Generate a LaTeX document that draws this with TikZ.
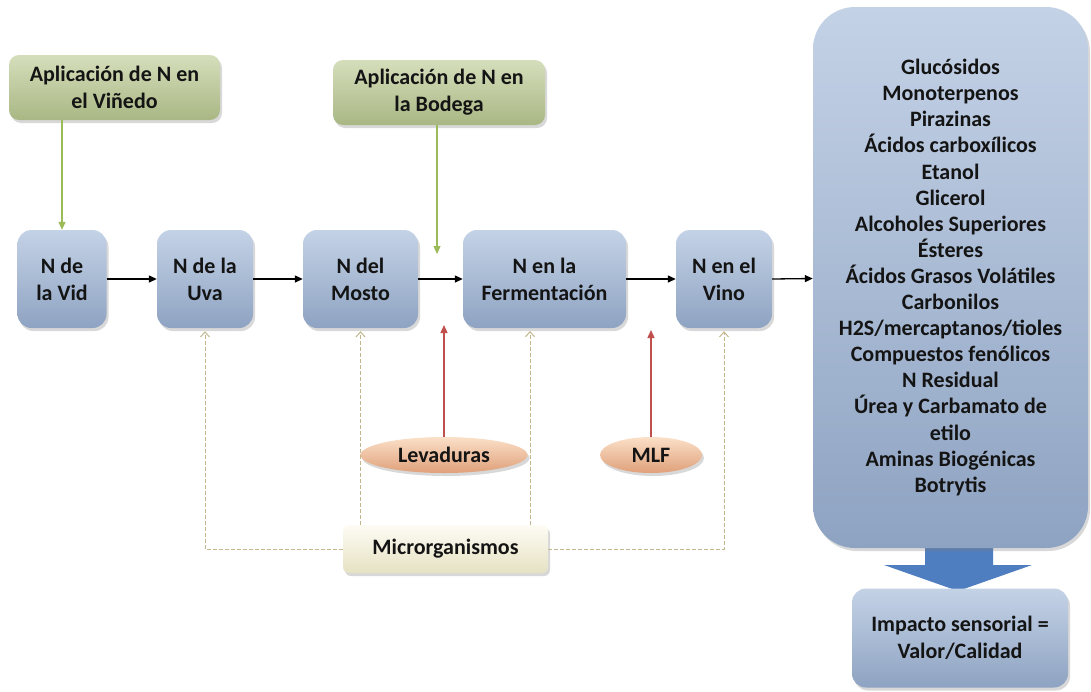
\documentclass[tikz,border=0pt]{standalone}
\usepackage{fontspec}
\setmainfont{Carlito}
\usetikzlibrary{shapes.geometric,shadows,arrows.meta,calc}

\definecolor{blueTop}{HTML}{C4D2E6}
\definecolor{blueBot}{HTML}{8EA3C2}
\definecolor{greenTop}{HTML}{D5DEBB}
\definecolor{greenBot}{HTML}{A9B784}
\definecolor{peachTop}{HTML}{FBE0C8}
\definecolor{peachBot}{HTML}{DFA07A}
\definecolor{creamTop}{HTML}{FDFCF4}
\definecolor{creamBot}{HTML}{E6E1C3}
\definecolor{inkText}{HTML}{141414}
\definecolor{greenLine}{HTML}{9BBB59}
\definecolor{redLine}{HTML}{C0504D}
\definecolor{dashLine}{HTML}{C2B78E}
\definecolor{bigArrow}{HTML}{4F7EC0}

\tikzset{
  txt/.style={font=\bfseries\fontsize{22}{27}\selectfont, text=inkText, align=center, inner sep=0pt},
  softshadow/.style={drop shadow={opacity=0.3, shadow xshift=2pt, shadow yshift=-3pt}},
  stagebox/.style={txt, rounded corners=14pt, top color=blueTop, bottom color=blueBot, softshadow},
  inputbox/.style={txt, rounded corners=10pt, top color=greenTop, bottom color=greenBot, softshadow},
  agent/.style={txt, ellipse, top color=peachTop, bottom color=peachBot, softshadow},
  microbox/.style={txt, rounded corners=6pt, top color=creamTop, bottom color=creamBot, softshadow},
  flow/.style={line width=1.3pt, black, -{Triangle[length=8pt,width=7pt]}},
  greenflow/.style={line width=1.3pt, greenLine, -{Triangle[length=8pt,width=7pt]}},
  redflow/.style={line width=1.4pt, redLine, -{Triangle[length=8pt,width=7pt]}},
  microflow/.style={line width=1pt, dashLine, dash pattern=on 4pt off 2pt, -{Straight Barb[length=5pt,width=9pt]}, shorten >=3pt},
}

\begin{document}
\begin{tikzpicture}[x=1pt,y=-1pt]
\useasboundingbox (0,0) rectangle (1091,691);
\fill[white] (0,0) rectangle (1091,691);

% inputs of nitrogen
\node[inputbox, minimum width=211pt, minimum height=65pt] (vinedo) at (114.5,87.5) {Aplicación de N en\\el Viñedo};
\node[inputbox, minimum width=212pt, minimum height=65pt] (bodega) at (439,92.5) {Aplicación de N en\\la Bodega};

% main chain of stages
\node[stagebox, minimum width=89pt,  minimum height=98pt] (vid)   at (62,279)    {N de\\la Vid};
\node[stagebox, minimum width=96pt,  minimum height=98pt] (uva)   at (205,279)   {N de la\\Uva};
\node[stagebox, minimum width=115pt, minimum height=98pt] (mosto) at (360.5,279) {N del\\Mosto};
\node[stagebox, minimum width=163pt, minimum height=98pt] (ferm)  at (544.5,279) {N en la\\Fermentación};
\node[stagebox, minimum width=96pt,  minimum height=98pt] (vino)  at (724,279)   {N en el\\Vino};

% block arrow towards the sensory impact
\fill[bigArrow] (925,540) -- (993,540) -- (993,565) -- (1032,565) -- (958,591) -- (884,565) -- (925,565) -- cycle;

% compounds affected
\node[stagebox, rounded corners=42pt, minimum width=275pt, minimum height=541pt,
      font=\bfseries\fontsize{22}{26.1}\selectfont] (comp) at (950.5,277.5)
  {Glucósidos\\Monoterpenos\\Pirazinas\\Ácidos carboxílicos\\Etanol\\Glicerol\\Alcoholes Superiores\\Ésteres\\Ácidos Grasos Volátiles\\Carbonilos\\H2S/mercaptanos/tioles\\Compuestos fenólicos\\N Residual\\Úrea y Carbamato de\\etilo\\Aminas Biogénicas\\Botrytis};

\node[stagebox, minimum width=216pt, minimum height=99pt] (impacto) at (960,638) {Impacto sensorial =\\Valor/Calidad};

% microorganisms
\node[agent, minimum width=167pt, minimum height=36pt] (lev) at (444,455) {Levaduras};
\node[agent, minimum width=102pt, minimum height=36pt] (mlf) at (651,455) {MLF};
\node[microbox, minimum width=205pt, minimum height=48pt] (micro) at (445.5,549) {Microrganismos};

% connectors
\draw[flow] (vid) -- (uva);
\draw[flow] (uva) -- (mosto);
\draw[flow] (mosto) -- (ferm);
\draw[flow] (ferm) -- (vino);
\draw[flow] (vino.east) -- ($(comp.west)+(0,1)$);

\draw[greenflow] (vinedo.south -| vid.north) -- (vid.north);
\coordinate (bodegaEnd) at (437,254);
\draw[greenflow] (bodega.south -| bodegaEnd) -- (bodegaEnd);

\coordinate (levEnd) at (444,325);
\coordinate (mlfEnd) at (651,330);
\draw[redflow] (lev.north) -- (levEnd);
\draw[redflow] (mlf.north) -- (mlfEnd);

\coordinate (fermFoot) at (530,328);
\draw[microflow] (micro.west) -| (uva.south);
\draw[microflow] (micro.north -| mosto.south) -- (mosto.south);
\draw[microflow] (micro.north -| fermFoot) -- (fermFoot);
\draw[microflow] (micro.east) -| (vino.south);
\end{tikzpicture}
\end{document}
